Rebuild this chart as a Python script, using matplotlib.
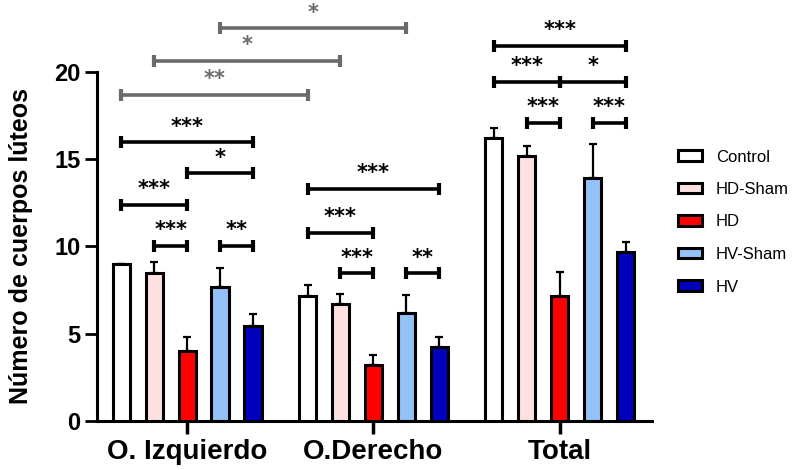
import numpy as np
import matplotlib.pyplot as plt

plt.rcParams['font.family'] = ['Liberation Sans', 'DejaVu Sans']

groups = ['O. Izquierdo', 'O.Derecho', 'Total']
series = ['Control', 'HD-Sham', 'HD', 'HV-Sham', 'HV']
colors = ['#FFFFFF', '#FDE0E0', '#FF0000', '#93C1F8', '#0000BF']

means = {
    'Control': [9.0, 7.18, 16.2],
    'HD-Sham': [8.46, 6.7, 15.2],
    'HD': [4.01, 3.21, 7.18],
    'HV-Sham': [7.7, 6.21, 13.94],
    'HV': [5.46, 4.22, 9.7],
}
sem = {
    'Control': [0.0, 0.61, 0.57],
    'HD-Sham': [0.67, 0.58, 0.56],
    'HD': [0.82, 0.57, 1.38],
    'HV-Sham': [1.05, 1.01, 1.92],
    'HV': [0.67, 0.58, 0.57],
}

# (group, bar a, bar b, height, label)
brackets = [
    (0, 0, 4, 15.97, '***'), (0, 2, 4, 14.2, '*'), (0, 0, 2, 12.38, '***'),
    (0, 1, 2, 10.05, '***'), (0, 3, 4, 10.05, '**'),
    (1, 0, 4, 13.3, '***'), (1, 0, 2, 10.8, '***'),
    (1, 1, 2, 8.46, '***'), (1, 3, 4, 8.46, '**'),
    (2, 0, 4, 21.5, '***'), (2, 0, 2, 19.45, '***'), (2, 2, 4, 19.45, '*'),
    (2, 1, 2, 17.1, '***'), (2, 3, 4, 17.1, '***'),
]
# across groups: (bar, group a, group b, height, label)
cross = [
    (3, 0, 1, 22.5, '*'), (1, 0, 1, 20.65, '*'), (0, 0, 1, 18.68, '**'),
]

step = 0.177
width = 0.093
x = np.arange(len(groups))

fig = plt.figure(figsize=(7.99, 4.70), dpi=100)
ax = fig.add_axes([0.1214, 0.1043, 0.6946, 0.7425])

for i, s in enumerate(series):
    pos = x + (i - 2) * step
    ax.bar(pos, means[s], width, color=colors[i], edgecolor='black', linewidth=2.2,
           label=s, zorder=3)
    ax.errorbar(pos, means[s], yerr=[np.zeros(3), sem[s]], fmt='none', ecolor='black',
                elinewidth=1.6, capsize=3, capthick=1.6, zorder=2)

def bracket(x1, x2, y, label, col):
    ax.plot([x1, x2], [y, y], color=col, lw=2.6, marker='|', ms=8, mew=3,
            clip_on=False, solid_capstyle='butt', zorder=4)
    ax.text((x1 + x2) / 2, y + 0.9, label, ha='center', va='center', fontsize=15,
            color=col, family='DejaVu Sans', fontweight='bold', clip_on=False)

for g, a, b, y, lab in brackets:
    bracket(g + (a - 2) * step, g + (b - 2) * step, y, lab, 'black')
for bar, ga, gb, y, lab in cross:
    bracket(ga + (bar - 2) * step, gb + (bar - 2) * step, y, lab, '#6A6A6A')

ax.set_xlim(-0.484, 2.495)
ax.set_ylim(0, 20)
ax.set_yticks([0, 5, 10, 15, 20])
ax.set_xticks(x)
ax.set_xticklabels(groups, fontsize=20, fontweight='bold')
ax.tick_params(axis='y', labelsize=17, width=2, length=9, pad=3)
ax.tick_params(axis='x', width=2.5, length=9, pad=4)
for lab in ax.get_yticklabels():
    lab.set_fontweight('bold')
ax.set_ylabel('Número de cuerpos lúteos', fontsize=18, fontweight='bold')
ax.yaxis.set_label_coords(-0.115, 0.5)
for sp in ['top', 'right']:
    ax.spines[sp].set_visible(False)
for sp in ['left', 'bottom']:
    ax.spines[sp].set_linewidth(2.2)

fig.legend(*ax.get_legend_handles_labels(), loc='center left',
           bbox_to_anchor=(678 / 799, 1 - 222 / 470), frameon=False, fontsize=12,
           borderpad=0, borderaxespad=0, handlelength=1.44, handleheight=0.6,
           labelspacing=1.05, handletextpad=0.84)

fig.savefig('out.png', dpi=100)
